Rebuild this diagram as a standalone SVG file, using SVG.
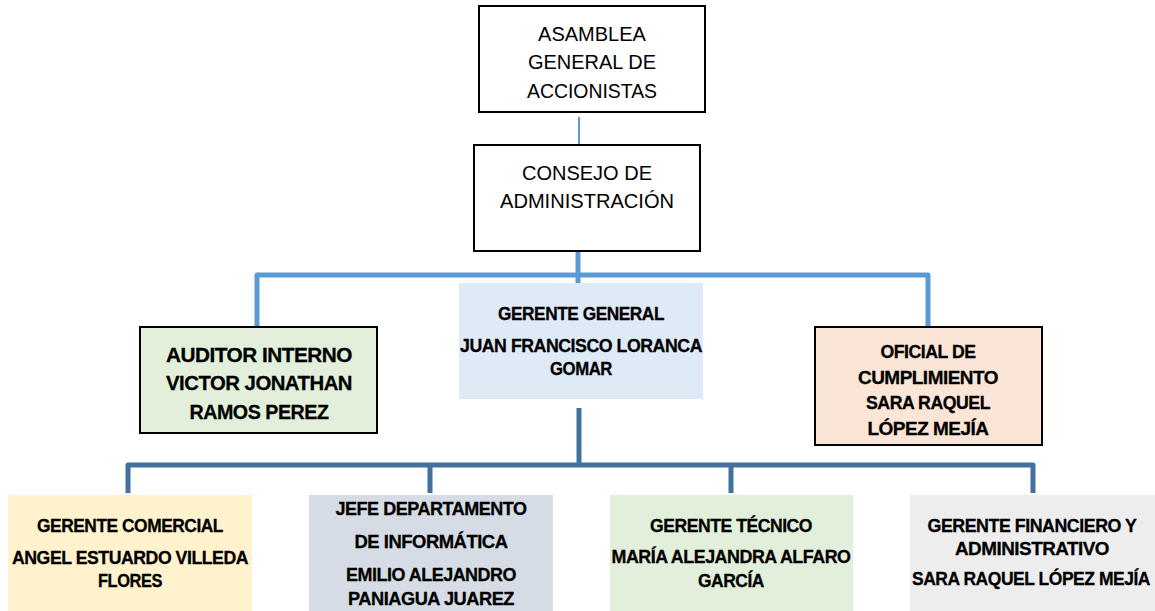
<svg xmlns="http://www.w3.org/2000/svg" width="1155" height="611" viewBox="0 0 1155 611">
<style>
.reg{font-family:"Liberation Sans",Arial,sans-serif;font-size:20px;fill:#000;text-anchor:middle}
.b{font-family:"Liberation Sans",Arial,sans-serif;font-weight:bold;font-size:19px;fill:#000;stroke:#000;stroke-width:0.3;text-anchor:middle;letter-spacing:-0.5px}
.bl{font-size:21px}
.box{stroke:#000;stroke-width:2}
.c1{fill:none;stroke:#5b9bd5;stroke-width:5;stroke-linejoin:round}
.c2{fill:none;stroke:#41719c;stroke-width:5;stroke-linejoin:round}
</style>
<rect width="1155" height="611" fill="#fff"/>
<g id="connectors">
<line x1="579" y1="117" x2="579" y2="144" stroke="#5b9bd5" stroke-width="2"/>
<line x1="578" y1="252" x2="578" y2="283" class="c1" stroke-width="6"/>
<path class="c1" d="M257 327 V275 H928 V327"/>
<line x1="579" y1="408" x2="579" y2="465" class="c2"/>
<path class="c2" d="M128 493 V465 H1033 V493"/>
<line x1="430" y1="465" x2="430" y2="493" class="c2"/>
<line x1="731" y1="465" x2="731" y2="493" class="c2"/>
</g>
<g id="asamblea">
<rect x="479" y="6" width="226" height="106" fill="#fff" class="box"/>
<text class="reg" x="592" y="41">ASAMBLEA</text>
<text class="reg" x="592" y="69">GENERAL DE</text>
<text class="reg" x="592" y="98" textLength="130" lengthAdjust="spacingAndGlyphs">ACCIONISTAS</text>
</g>
<g id="consejo">
<rect x="474" y="145" width="226" height="106" fill="#fff" class="box"/>
<text class="reg" x="587" y="180">CONSEJO DE</text>
<text class="reg" x="587" y="208" textLength="174" lengthAdjust="spacingAndGlyphs">ADMINISTRACIÓN</text>
</g>
<g id="gerente-general">
<rect x="459" y="283" width="244" height="116" fill="#deeaf6"/>
<text class="b" x="581" y="320" textLength="166" lengthAdjust="spacingAndGlyphs">GERENTE GENERAL</text>
<text class="b" x="581" y="352" textLength="242" lengthAdjust="spacingAndGlyphs">JUAN FRANCISCO LORANCA</text>
<text class="b" x="581" y="375" textLength="62" lengthAdjust="spacingAndGlyphs">GOMAR</text>
</g>
<g id="auditor">
<rect x="140" y="327" width="237" height="106" fill="#e2efda" class="box"/>
<text class="b bl" x="259" y="362" textLength="186" lengthAdjust="spacingAndGlyphs">AUDITOR INTERNO</text>
<text class="b bl" x="259" y="390" textLength="186" lengthAdjust="spacingAndGlyphs">VICTOR JONATHAN</text>
<text class="b bl" x="259" y="419" textLength="139" lengthAdjust="spacingAndGlyphs">RAMOS PEREZ</text>
</g>
<g id="oficial">
<rect x="815" y="327" width="227" height="118" fill="#fbe5d6" class="box"/>
<text class="b" x="928" y="358" textLength="95" lengthAdjust="spacingAndGlyphs">OFICIAL DE</text>
<text class="b" x="928" y="384" textLength="140" lengthAdjust="spacingAndGlyphs">CUMPLIMIENTO</text>
<text class="b" x="928" y="409" textLength="124" lengthAdjust="spacingAndGlyphs">SARA RAQUEL</text>
<text class="b" x="928" y="435" textLength="121" lengthAdjust="spacingAndGlyphs">LÓPEZ MEJÍA</text>
</g>
<g id="comercial">
<rect x="8" y="495" width="244" height="116" fill="#fff2cc"/>
<text class="b" x="130" y="532" textLength="186" lengthAdjust="spacingAndGlyphs">GERENTE COMERCIAL</text>
<text class="b" x="130" y="564" textLength="236" lengthAdjust="spacingAndGlyphs">ANGEL ESTUARDO VILLEDA</text>
<text class="b" x="130" y="587" textLength="64" lengthAdjust="spacingAndGlyphs">FLORES</text>
</g>
<g id="informatica">
<rect x="309" y="495" width="244" height="116" fill="#d6dce5"/>
<text class="b" x="431" y="515" textLength="191" lengthAdjust="spacingAndGlyphs">JEFE DEPARTAMENTO</text>
<text class="b" x="431" y="548" textLength="153" lengthAdjust="spacingAndGlyphs">DE INFORMÁTICA</text>
<text class="b" x="431" y="581" textLength="170" lengthAdjust="spacingAndGlyphs">EMILIO ALEJANDRO</text>
<text class="b" x="431" y="605" textLength="166" lengthAdjust="spacingAndGlyphs">PANIAGUA JUAREZ</text>
</g>
<g id="tecnico">
<rect x="610" y="495" width="243" height="116" fill="#e2efda"/>
<text class="b" x="731" y="532" textLength="162" lengthAdjust="spacingAndGlyphs">GERENTE TÉCNICO</text>
<text class="b" x="731" y="563" textLength="239" lengthAdjust="spacingAndGlyphs">MARÍA ALEJANDRA ALFARO</text>
<text class="b" x="731" y="587" textLength="66" lengthAdjust="spacingAndGlyphs">GARCÍA</text>
</g>
<g id="financiero">
<rect x="910" y="495" width="245" height="116" fill="#ededed"/>
<text class="b" x="1032" y="532" textLength="209" lengthAdjust="spacingAndGlyphs">GERENTE FINANCIERO Y</text>
<text class="b" x="1032" y="555" textLength="154" lengthAdjust="spacingAndGlyphs">ADMINISTRATIVO</text>
<text class="b" x="1031" y="585" textLength="238" lengthAdjust="spacingAndGlyphs">SARA RAQUEL LÓPEZ MEJÍA</text>
</g>
</svg>
